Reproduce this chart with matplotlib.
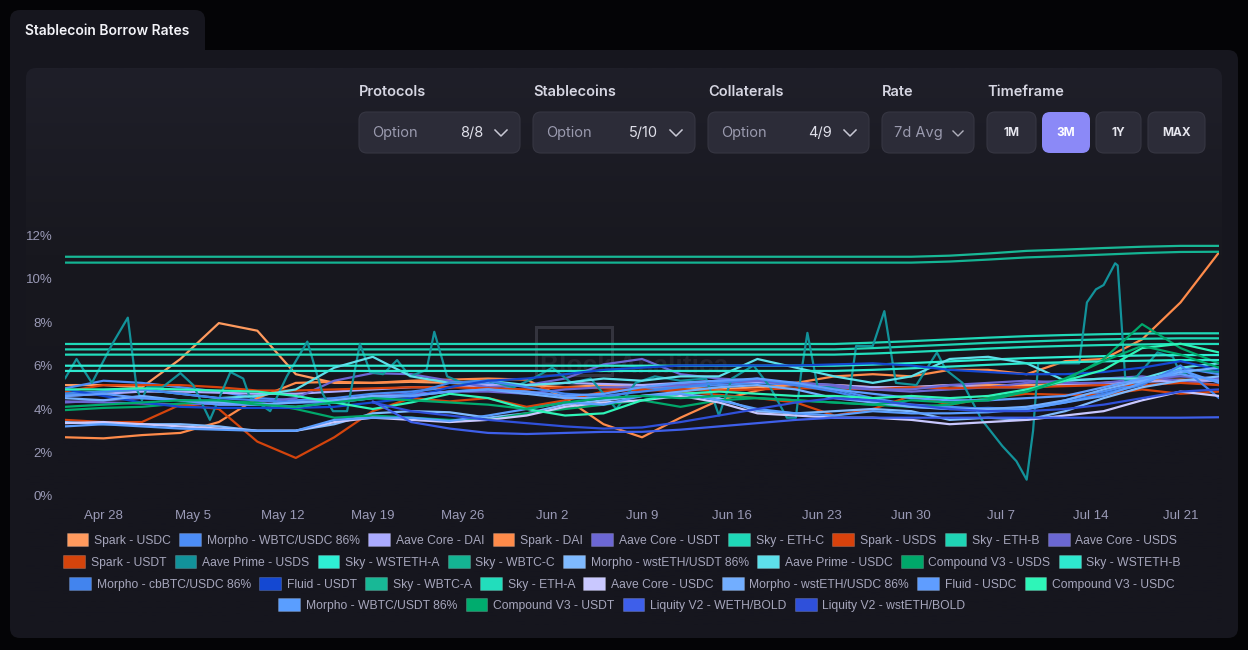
import numpy as np
import matplotlib.pyplot as plt
import matplotlib.patches as mpatches
from matplotlib.patches import FancyBboxPatch, Rectangle
from matplotlib.colors import LinearSegmentedColormap

W, H = 1248, 650
nan = np.nan

# days since Apr 25, sampled every 3 days
day = np.arange(0, 91, 3)
tick_days = [3, 10, 17, 24, 31, 38, 45, 52, 59, 66, 73, 80, 87]
tick_labels = ['Apr 28', 'May 5', 'May 12', 'May 19', 'May 26', 'Jun 2', 'Jun 9',
               'Jun 16', 'Jun 23', 'Jun 30', 'Jul 7', 'Jul 14', 'Jul 21']
y_ticks = [0, 2, 4, 6, 8, 10, 12]

spark_usdc = [5.1, 5.1, 5.0, 6.3, 7.95, 7.6, 5.6, 5.2, 5.2, 5.25, 5.2, 5.1, 5.1, 5.0, 5.1, 5.0,
              5.0, 4.9, 5.0, 5.1, 5.1, 5.0, 5.0, 5.1, 5.1, 5.1, 5.15, 5.2, 5.3, 5.35, 5.3]
morpho_wbtc_usdc = [4.95, 5.3, 5.2, 5.0, 4.8, 4.5, 4.4, 4.5, 4.7, 4.8, 5.0, 5.2, 4.8, 4.6, 4.5, 4.9,
                    5.0, 5.1, 5.2, 5.1, 4.9, 4.5, 4.2, 4.1, 4.0, 4.0, 4.4, 4.8, 5.2, 5.9, 5.6]
aave_core_dai = [4.6, 4.7, 4.8, 4.8, 4.75, 4.7, 4.7, 4.8, 4.9, 5.0, 5.0, 5.1, 5.1, 5.2, 5.15, 5.1,
                 5.2, 5.3, 5.25, 5.2, 5.1, 5.0, 5.0, 5.1, 5.0, 5.0, 5.1, 5.2, 5.25, 5.3, 5.3]
spark_dai = [2.7, 2.65, 2.8, 2.9, 3.4, 4.5, 5.2, 5.25, 5.2, 5.3, 5.35, 5.4, 5.35, 4.5, 3.3, 2.7,
             3.6, 4.4, 4.85, 5.2, 5.5, 5.6, 5.5, 5.8, 5.8, 5.6, 6.2, 6.3, 7.2, 8.9, 11.2]
aave_core_usdt = [4.35, 4.3, 4.25, 4.2, 4.25, 4.3, 4.5, 5.3, 5.65, 5.6, 5.3, 5.0, 5.1, 5.4, 6.05, 6.3,
                  5.6, 5.4, 5.3, 5.2, 5.1, 4.9, 4.8, 4.9, 5.0, 5.2, 5.3, 5.4, 5.5, 5.3, 5.1]
spark_usds = [4.8, 5.1, 5.1, 5.1, 5.0, 4.85, 4.85, 4.9, 4.95, 5.0, 5.0, 4.95, 4.9, 5.0, 4.95, 4.85,
              4.9, 4.85, 4.9, 4.95, 4.95, 4.9, 5.0, 4.95, 5.0, 5.0, 5.05, 5.1, 5.1, 5.2, 5.1]
aave_core_usds = [4.3, 4.4, 4.5, 4.4, 4.2, 4.2, 4.3, 4.4, 4.6, 4.7, 4.8, 4.8, 4.7, 4.9, 5.0, 5.0,
                  5.1, 5.2, 5.3, 5.1, 5.0, 4.9, 4.9, 5.1, 5.2, 5.3, 5.2, 5.2, 5.4, 5.5, 5.4]
spark_usdt = [3.5, 3.4, 3.4, 4.2, 4.0, 2.5, 1.75, 2.7, 3.9, 4.5, 4.35, 4.5, 4.1, 4.4, 4.8, 4.9,
              4.8, 4.65, 4.5, 4.3, 3.7, 4.0, 4.6, 4.2, 4.5, 4.7, 4.65, 4.65, 4.9, 4.7, 4.8]
morpho_wsteth_usdt = [3.4, 3.3, 3.3, 3.3, 3.2, 3.0, 3.0, 3.3, 3.8, 3.9, 3.85, 3.6, 3.8, 4.2, 4.4, 4.6,
                      4.7, 4.5, 3.9, 3.8, 3.9, 4.0, 3.9, 3.5, 3.6, 3.5, 3.9, 4.5, 5.0, 5.3, 5.5]
aave_prime_usdc = [4.7, 4.8, 4.9, 4.7, 4.5, 4.6, 4.9, 5.9, 6.4, 5.5, 5.2, 5.3, 5.1, 5.2, 5.4, 5.3,
                   5.5, 5.5, 6.3, 5.9, 5.5, 5.2, 5.5, 6.3, 6.4, 6.1, 5.3, 5.4, 5.4, 5.9, 6.1]
compound_usds = [3.95, 4.05, 4.1, 4.25, 4.35, 4.3, 4.0, 3.6, 3.7, 3.6, 3.5, 3.5, 3.8, 4.0, 4.2, 4.4,
                 4.1, 4.4, 4.5, 4.4, 4.3, 4.2, 4.1, 4.2, 4.5, 4.8, 5.3, 6.3, 7.9, 6.8, 6.1]
morpho_cbbtc_usdc = [4.7, 4.8, 4.9, 4.7, 4.5, 4.4, 4.3, 4.3, 4.5, 4.7, 5.2, 5.3, 5.0, 4.7, 4.6, 4.8,
                     5.0, 5.2, 5.4, 5.1, 4.8, 4.4, 4.1, 4.0, 4.05, 4.0, 4.3, 4.7, 5.1, 6.0, 4.5]
fluid_usdt = [4.9, 4.6, 4.3, 4.1, 4.05, 4.05, 4.05, 4.1, 4.3, 4.5, 5.0, 5.3, 5.4, 5.6, 5.8, 5.9,
              6.0, 6.0, 6.0, 6.0, 6.05, 6.1, 6.0, 5.8, 5.7, 5.6, 5.6, 5.7, 5.9, 6.2, 5.8]
aave_core_usdc = [3.35, 3.4, 3.3, 3.2, 3.1, 3.0, 3.0, 3.4, 3.6, 3.5, 3.4, 3.5, 3.7, 4.1, 4.3, 4.4,
                  4.6, 4.3, 3.8, 3.7, 3.6, 3.6, 3.5, 3.3, 3.4, 3.5, 3.7, 3.9, 4.4, 4.8, 4.6]
morpho_wsteth_usdc = [4.5, 4.4, 4.6, 4.4, 4.3, 4.2, 4.3, 4.4, 4.6, 4.6, 4.8, 4.9, 4.7, 4.5, 4.5, 4.6,
                      4.8, 5.0, 5.1, 4.9, 4.5, 4.3, 4.1, 4.0, 4.0, 4.1, 4.4, 4.9, 5.3, 5.7, 5.9]
fluid_usdc = [4.6, 4.7, 4.5, 4.4, 4.2, 4.2, 4.1, 4.3, 4.5, 4.6, 4.8, 4.9, 4.8, 4.6, 4.7, 5.0,
              5.2, 5.3, 5.4, 5.2, 4.9, 4.7, 4.5, 4.4, 4.4, 4.5, 4.6, 5.0, 5.4, 5.6, 5.3]
compound_usdc = [4.9, 4.9, 4.95, 4.9, 4.85, 4.8, 4.6, 4.3, 4.0, 4.3, 4.7, 4.5, 4.0, 3.7, 3.8, 4.4,
                 4.7, 4.8, 4.7, 4.6, 4.6, 4.5, 4.6, 4.5, 4.6, 4.9, 5.3, 5.8, 6.8, 7.0, 6.6]
morpho_wbtc_usdt = [3.2, 3.3, 3.2, 3.1, 3.05, 3.0, 3.0, 3.5, 3.6, 3.6, 3.45, 3.7, 4.0, 4.3, 4.2, 4.6,
                    4.7, 4.4, 4.0, 3.8, 3.7, 3.9, 3.8, 3.8, 3.85, 4.0, 4.3, 4.6, 5.2, 5.8, 5.2]
compound_usdt = [4.1, 4.2, 4.3, 4.4, 4.4, 4.2, 4.1, 4.3, 4.5, 4.4, 4.3, 4.2, 4.0, 4.3, 4.5, 4.6,
                 4.5, 4.6, 4.5, 4.4, 4.3, 4.2, 4.4, 4.3, 4.4, 4.8, 5.4, 6.2, 6.9, 6.5, 5.9]
liquity_weth = [nan, nan, nan, nan, nan, nan, nan, nan, 4.35, 3.4, 3.1, 2.9, 2.85, 2.9, 2.95, 2.95,
                3.05, 3.2, 3.35, 3.5, 3.6, 3.6, 3.6, 3.6, 3.6, 3.6, 3.6, 3.6, 3.6, 3.6, 3.62]
liquity_wsteth = [nan, nan, nan, nan, nan, nan, nan, nan, 4.3, 3.9, 3.7, 3.5, 3.35, 3.2, 3.1, 3.15,
                  3.4, 3.7, 4.0, 4.3, 4.5, 4.4, 4.2, 4.0, 3.9, 3.9, 4.0, 4.2, 4.5, 4.8, 4.9]

sky_eth_c = [6.99, 6.99, 6.99, 6.99, 6.99, 6.99, 6.99, 6.99, 6.99, 6.99, 6.99, 6.99, 6.99, 6.99, 6.99, 6.99,
             6.99, 6.99, 6.99, 6.99, 6.99, 7.05, 7.12, 7.2, 7.28, 7.35, 7.4, 7.44, 7.47, 7.48, 7.48]
sky_eth_b = [6.74, 6.74, 6.74, 6.74, 6.74, 6.74, 6.74, 6.74, 6.74, 6.74, 6.74, 6.74, 6.74, 6.74, 6.74, 6.74,
             6.74, 6.74, 6.74, 6.74, 6.74, 6.8, 6.88, 6.96, 7.04, 7.1, 7.16, 7.2, 7.23, 7.25, 7.25]
sky_eth_a = [6.5, 6.5, 6.5, 6.5, 6.5, 6.5, 6.5, 6.5, 6.5, 6.5, 6.5, 6.5, 6.5, 6.5, 6.5, 6.5,
             6.5, 6.5, 6.5, 6.5, 6.5, 6.55, 6.62, 6.7, 6.78, 6.85, 6.9, 6.94, 6.97, 6.99, 6.99]
sky_wsteth_a = [5.99, 5.99, 5.99, 5.99, 5.99, 5.99, 5.99, 5.99, 5.99, 5.99, 5.99, 5.99, 5.99, 5.99, 5.99, 5.99,
                5.99, 5.99, 5.99, 5.99, 5.99, 6.04, 6.11, 6.19, 6.27, 6.34, 6.39, 6.43, 6.46, 6.48, 6.48]
sky_wsteth_b = [5.75, 5.75, 5.75, 5.75, 5.75, 5.75, 5.75, 5.75, 5.75, 5.75, 5.75, 5.75, 5.75, 5.75, 5.75, 5.75,
                5.75, 5.75, 5.75, 5.75, 5.75, 5.8, 5.87, 5.95, 6.03, 6.1, 6.15, 6.19, 6.22, 6.25, 6.25]
sky_wbtc_a = [11.0, 11.0, 11.0, 11.0, 11.0, 11.0, 11.0, 11.0, 11.0, 11.0, 11.0, 11.0, 11.0, 11.0, 11.0, 11.0,
              11.0, 11.0, 11.0, 11.0, 11.0, 11.0, 11.0, 11.05, 11.15, 11.27, 11.33, 11.4, 11.46, 11.5, 11.5]
sky_wbtc_c = [10.73, 10.73, 10.73, 10.73, 10.73, 10.73, 10.73, 10.73, 10.73, 10.73, 10.73, 10.73, 10.73, 10.73,
              10.73, 10.73, 10.73, 10.73, 10.73, 10.73, 10.73, 10.73, 10.73, 10.78, 10.87, 10.97, 11.03, 11.1,
              11.17, 11.22, 11.23]

# Aave Prime - USDS is spiky, read on its own day positions
prime_usds_day = [0, 0.9, 2.1, 3.7, 4.9, 5.6, 6.0, 6.4, 7.6, 9.0,
                  10.0, 11.3, 12.9, 13.9, 14.4, 16.0, 17.3, 18.9, 20.1, 20.9,
                  22.0, 23.0, 23.8, 24.8, 25.9, 26.9, 28.2, 28.8, 29.8, 31.0,
                  33.0, 35.0, 36.5, 38.0, 39.5, 41.0, 43.0, 44.5, 46.0, 48.0,
                  50.0, 51.0, 52.0, 53.7, 55.0, 56.3, 57.0, 57.4, 57.9, 58.7,
                  59.6, 61.2, 61.7, 63.0, 63.9, 64.8, 66.4, 68.0, 68.7, 70.0,
                  71.5, 73.1, 74.2, 75.0, 75.5, 75.9, 77.8, 79.1, 79.7, 80.4,
                  81.0, 81.9, 82.1, 82.7, 83.6, 85.2, 86.4, 87.0, 88.3, 90.0]
prime_usds = [5.4, 6.3, 5.2, 7.0, 8.2, 4.9, 4.4, 5.0, 5.0, 5.65,
              5.1, 3.5, 5.7, 5.4, 4.55, 3.9, 5.5, 7.1, 4.7, 3.9,
              3.9, 7.0, 5.7, 5.6, 6.25, 5.5, 5.8, 7.55, 5.5, 5.2,
              5.3, 5.0, 5.4, 5.9, 5.2, 5.4, 4.0, 5.2, 5.5, 5.3,
              5.4, 3.7, 5.4, 6.0, 5.0, 3.6, 3.6, 5.6, 7.5, 5.0,
              5.0, 4.8, 6.9, 6.9, 8.5, 5.2, 5.1, 6.6, 5.8, 5.2,
              3.5, 2.3, 1.6, 0.75, 3.0, 6.1, 6.1, 6.1, 8.9, 9.5,
              9.7, 10.7, 10.6, 5.3, 5.5, 6.6, 6.4, 5.6, 5.8, 5.7]

# (label, values, colour) in legend order, one list per legend row
row1 = [('Spark - USDC', spark_usdc, '#FF9A5E'),
        ('Morpho - WBTC/USDC 86%', morpho_wbtc_usdc, '#4C8DF6'),
        ('Aave Core - DAI', aave_core_dai, '#ABABFF'),
        ('Spark - DAI', spark_dai, '#FF8B4A'),
        ('Aave Core - USDT', aave_core_usdt, '#6C67D4'),
        ('Sky - ETH-C', sky_eth_c, '#1FD9B8'),
        ('Spark - USDS', spark_usds, '#D8420C'),
        ('Sky - ETH-B', sky_eth_b, '#1FD4B4'),
        ('Aave Core - USDS', aave_core_usds, '#6B67D2')]
row2 = [('Spark - USDT', spark_usdt, '#D4440C'),
        ('Aave Prime - USDS', prime_usds, '#12929A'),
        ('Sky - WSTETH-A', sky_wsteth_a, '#2EEFD4'),
        ('Sky - WBTC-C', sky_wbtc_c, '#14B493'),
        ('Morpho - wstETH/USDT 86%', morpho_wsteth_usdt, '#7FBAFF'),
        ('Aave Prime - USDC', aave_prime_usdc, '#5DE0EA'),
        ('Compound V3 - USDS', compound_usds, '#00A86A'),
        ('Sky - WSTETH-B', sky_wsteth_b, '#2EE8CF')]
row3 = [('Morpho - cbBTC/USDC 86%', morpho_cbbtc_usdc, '#4284EE'),
        ('Fluid - USDT', fluid_usdt, '#1448D2'),
        ('Sky - WBTC-A', sky_wbtc_a, '#18B896'),
        ('Sky - ETH-A', sky_eth_a, '#22DDBC'),
        ('Aave Core - USDC', aave_core_usdc, '#C9C8FF'),
        ('Morpho - wstETH/USDC 86%', morpho_wsteth_usdc, '#72AEFF'),
        ('Fluid - USDC', fluid_usdc, '#5F9DFF'),
        ('Compound V3 - USDC', compound_usdc, '#2EF5B8')]
row4 = [('Morpho - WBTC/USDT 86%', morpho_wbtc_usdt, '#5A9EFF'),
        ('Compound V3 - USDT', compound_usdt, '#00AC6E'),
        ('Liquity V2 - WETH/BOLD', liquity_weth, '#3E5FEA'),
        ('Liquity V2 - wstETH/BOLD', liquity_wsteth, '#2F50DA')]
legend_rows = [row1, row2, row3, row4]
legend_y = [540, 562, 584, 605]

ui_font = ['Inter', 'DejaVu Sans']
chart_font = ['Liberation Sans', 'DejaVu Sans']

fig = plt.figure(figsize=(W / 100, H / 100), dpi=100, facecolor='#040406')

# background / UI layer in pixel coordinates
bg = fig.add_axes([0, 0, 1, 1])
bg.set_xlim(0, W)
bg.set_ylim(H, 0)
bg.axis('off')


def box(x0, y0, x1, y1, color, r=8, ec='none', lw=0, z=1):
    p = FancyBboxPatch((x0, y0), x1 - x0, y1 - y0,
                       boxstyle='round,pad=0,rounding_size=%d' % r,
                       fc=color, ec=ec, lw=lw, zorder=z)
    bg.add_patch(p)
    return p


box(10, 10, 205, 70, '#16161e', r=10)
box(10, 50, 1238, 638, '#16161e', r=10)
panel = box(26, 68, 1222, 625, 'none', r=10, z=2)
cmap = LinearSegmentedColormap.from_list('panel', ['#1f1f29', '#18181f', '#16161e', '#16161e'])
grad = np.linspace(0, 1, 200).reshape(-1, 1)
im = bg.imshow(grad, extent=[26, 1222, 625, 68], aspect='auto', cmap=cmap, zorder=2)
im.set_clip_path(panel)
bg.set_xlim(0, W)
bg.set_ylim(H, 0)

bg.text(25, 31, 'Stablecoin Borrow Rates', color='#f2f2f7', fontsize=10,
        fontweight='semibold', family=ui_font, va='center', zorder=5)

# filter controls
controls = [('Protocols', 359, 520, 'Option', '8/8'),
            ('Stablecoins', 533, 695, 'Option', '5/10'),
            ('Collaterals', 708, 869, 'Option', '4/9')]
for label, x0, x1, opt, count in controls:
    bg.text(x0, 92, label, color='#d6d6e2', fontsize=10.5, fontweight='semibold',
            family=ui_font, va='center', zorder=5)
    box(x0, 112, x1, 153, '#2c2c38', r=8, ec='#363642', lw=0.8, z=4)
    bg.text(x0 + 13, 133, opt, color='#9a9aae', fontsize=10.5, family=ui_font, va='center', zorder=5)
    bg.text(x1 - 37, 133, count, color='#e0e0ea', fontsize=10.5, family=ui_font,
            va='center', ha='right', zorder=5)
    cx = x1 - 19
    bg.plot([cx - 6, cx, cx + 6], [130, 136, 130], color='#c8c8d4', lw=1.1, zorder=5)

bg.text(882, 92, 'Rate', color='#d6d6e2', fontsize=10.5, fontweight='semibold',
        family=ui_font, va='center', zorder=5)
box(882, 112, 974, 153, '#2c2c38', r=8, ec='#363642', lw=0.8, z=4)
bg.text(894, 133, '7d Avg', color='#9a9aae', fontsize=10.5, family=ui_font, va='center', zorder=5)
bg.plot([953, 958, 963], [131, 136, 131], color='#b0b0bc', lw=1.0, zorder=5)

bg.text(987, 92, 'Timeframe', color='#d6d6e2', fontsize=10.5, fontweight='semibold',
        family=ui_font, va='center', zorder=5)
buttons = [('1M', 987, 1036, False), ('3M', 1042, 1090, True),
           ('1Y', 1096, 1141, False), ('MAX', 1148, 1205, False)]
for txt, x0, x1, active in buttons:
    fc = '#8b89f7' if active else '#2c2c38'
    box(x0, 112, x1, 153, fc, r=8, ec='none' if active else '#363642', lw=0.8, z=4)
    bg.text((x0 + x1) / 2, 133, txt, color='#ffffff' if active else '#e6e6ee', fontsize=8.5,
            fontweight='bold', family=ui_font, ha='center', va='center', zorder=5)

# faint watermark
bg.add_patch(Rectangle((536, 327), 76, 48, fill=False, ec='#34343e', lw=2.2, zorder=3))
bg.text(540, 366, 'Block Analitica', color='#25252e', fontsize=19, fontweight='bold',
        family=chart_font, va='center', zorder=3)

# chart
ax = fig.add_axes([65 / W, (H - 496) / H, (1219 - 65) / W, (496 - 235) / H])
ax.patch.set_alpha(0)
ax.set_zorder(3)
for s in ax.spines.values():
    s.set_visible(False)

for row in legend_rows:
    for name, vals, col in row:
        xs = prime_usds_day if name == 'Aave Prime - USDS' else day
        ax.plot(xs, vals, color=col, lw=1.6, solid_joinstyle='round', solid_capstyle='round')

ax.set_xlim(0, 90)
ax.set_ylim(0, 12)
ax.set_yticks(y_ticks)
ax.set_yticklabels(['%d%%' % v for v in y_ticks])
ax.set_xticks(tick_days)
ax.set_xticklabels(tick_labels)
ax.tick_params(length=0, colors='#9a9ab6', labelsize=9.5)
ax.tick_params(axis='y', pad=9)
ax.tick_params(axis='x', pad=10)
for lab in ax.get_xticklabels() + ax.get_yticklabels():
    lab.set_family(chart_font)

# legend, one centred row at a time
for row, yy in zip(legend_rows, legend_y):
    handles = [mpatches.Patch(facecolor=col, edgecolor='#ffffff30', linewidth=0.6, label=name)
               for name, vals, col in row]
    leg = fig.legend(handles=handles, loc='center', bbox_to_anchor=(622 / W, 1 - yy / H),
                     ncol=len(row), frameon=False, handlelength=1.8,
                     handleheight=1.3, handletextpad=0.47, columnspacing=0.7,
                     borderpad=0, borderaxespad=0, prop={'family': chart_font, 'size': 8.7})
    for t in leg.get_texts():
        t.set_color('#a6a6bc')

fig.savefig('out.png', dpi=100, facecolor=fig.get_facecolor())
